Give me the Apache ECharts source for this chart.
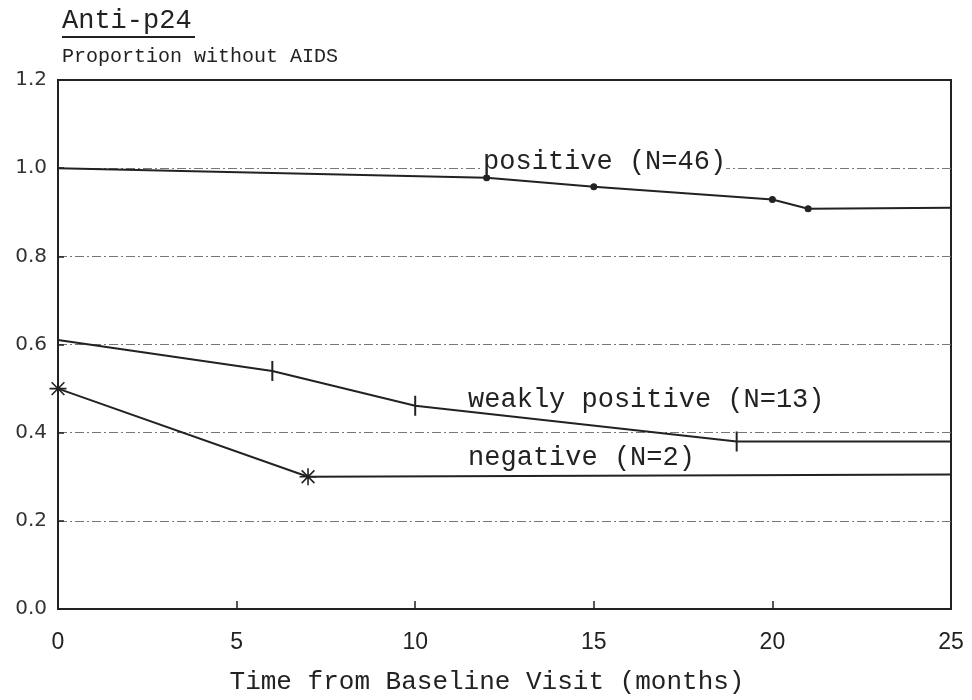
<!DOCTYPE html>
<html>
<head>
<meta charset="utf-8">
<script src="https://cdn.jsdelivr.net/npm/echarts@6/dist/echarts.min.js"></script>
<style>
html,body{margin:0;padding:0;background:#fff;}
#chart{width:972px;height:700px;}
</style>
</head>
<body>
<div id="chart"></div>
<script>
// ---- data ----
const xTicks = [0, 5, 10, 15, 20, 25];
const yTicks = [0.0, 0.2, 0.4, 0.6, 0.8, 1.0, 1.2];

const positiveMonths = [0, 12, 15, 20, 21, 25];
const positiveValues = [1.0, 0.978, 0.958, 0.929, 0.908, 0.91];

const weakMonths = [0, 6, 10, 19, 25];
const weakValues = [0.61, 0.54, 0.461, 0.38, 0.38];

const negativeMonths = [0, 7, 25];
const negativeValues = [0.5, 0.30, 0.305];

const seriesLabels = ['positive (N=46)', 'weakly positive (N=13)', 'negative (N=2)'];
const titleText = 'Anti-p24';
const yTitleText = 'Proportion without AIDS';
const xTitleText = 'Time from Baseline Visit (months)';

// ---- chart ----
const ink = '#222';
const mono = '"Liberation Mono", "DejaVu Sans Mono", monospace';
const chart = echarts.init(document.getElementById('chart'), null, {renderer: 'canvas'});

function build(ts, vs, markFirst) {
  return ts.map((t, i) => {
    const last = i === ts.length - 1;
    const show = (i > 0 || markFirst) && !last;
    return show ? [t, vs[i]] : {value: [t, vs[i]], symbol: 'none'};
  });
}

const asterisk = 'path://M0,-10L0,10M-7.5,-7.5L7.5,7.5M-7.5,7.5L7.5,-7.5M-10,0L10,0';

chart.setOption({
  animation: false,
  backgroundColor: '#fff',
  grid: {left: 58, right: 21, top: 80, bottom: 89, show: true, borderColor: ink, borderWidth: 2, backgroundColor: 'transparent'},
  xAxis: [{
    type: 'value', min: xTicks[0], max: xTicks[xTicks.length - 1], interval: 5,
    axisLine: {show: true, lineStyle: {color: ink, width: 2}},
    axisTick: {show: true, inside: true, length: 8, lineStyle: {color: ink, width: 1.5}},
    axisLabel: {color: ink, fontFamily: '"Liberation Sans", Arial, sans-serif', fontSize: 23, margin: 22,
      formatter: v => xTicks.includes(v) ? String(v) : ''},
    splitLine: {show: false},
    name: xTitleText, nameLocation: 'middle', nameGap: 60,
    nameTextStyle: {color: ink, fontFamily: mono, fontSize: 26, padding: [0, 35, 0, 0]}
  }, {
    type: 'value', position: 'top', min: xTicks[0], max: xTicks[xTicks.length - 1], interval: 5,
    axisLine: {show: true, lineStyle: {color: ink, width: 2}},
    axisTick: {show: false}, axisLabel: {show: false}, splitLine: {show: false}
  }],
  yAxis: {
    type: 'value', min: yTicks[0], max: yTicks[yTicks.length - 1], interval: 0.2,
    axisLine: {show: true, lineStyle: {color: ink, width: 2}},
    axisTick: {show: true, inside: true, length: 6, lineStyle: {color: ink, width: 1.5}},
    axisLabel: {color: '#333', fontFamily: '"DejaVu Sans", sans-serif', fontSize: 20, margin: 11,
      formatter: v => v.toFixed(1)},
    splitLine: {show: true, lineStyle: {color: '#777', width: 1.2, type: [9, 3, 2, 3]}}
  },
  series: [
    {
      name: seriesLabels[0], type: 'line', data: build(positiveMonths, positiveValues, false),
      symbol: 'circle', symbolSize: 7, lineStyle: {color: ink, width: 2},
      itemStyle: {color: ink}, z: 5
    },
    {
      name: seriesLabels[1], type: 'line', data: build(weakMonths, weakValues, false),
      symbol: 'rect', symbolSize: [2, 20], lineStyle: {color: ink, width: 2},
      itemStyle: {color: ink}, z: 5
    },
    {
      name: seriesLabels[2], type: 'line', data: build(negativeMonths, negativeValues, true),
      symbol: asterisk, symbolSize: 17, lineStyle: {color: ink, width: 2},
      itemStyle: {color: 'transparent', borderColor: ink, borderWidth: 1.6}, z: 5
    }
  ]
});

// annotation labels placed via the chart's own coordinate conversion
const labelAnchors = [[11.9, 1.015], [11.48, 0.475], [11.48, 0.342]];
const gfx = labelAnchors.map((a, i) => {
  const p = chart.convertToPixel({gridIndex: 0}, a);
  return {type: 'text', x: p[0], y: p[1], z: 10,
    style: {text: seriesLabels[i], font: '27px ' + mono, fill: ink, textVerticalAlign: 'middle', textAlign: 'left',
      backgroundColor: i === 0 ? '#fff' : null}};
});
gfx.push({type: 'text', x: 62, y: 21, style: {text: titleText, font: '27px ' + mono, fill: ink, textVerticalAlign: 'middle'}});
gfx.push({type: 'line', shape: {x1: 62, y1: 37, x2: 195, y2: 37}, style: {stroke: ink, lineWidth: 2}});
gfx.push({type: 'text', x: 62, y: 57, style: {text: yTitleText, font: '20px ' + mono, fill: ink, textVerticalAlign: 'middle'}});
chart.setOption({graphic: gfx});
</script>
</body>
</html>
